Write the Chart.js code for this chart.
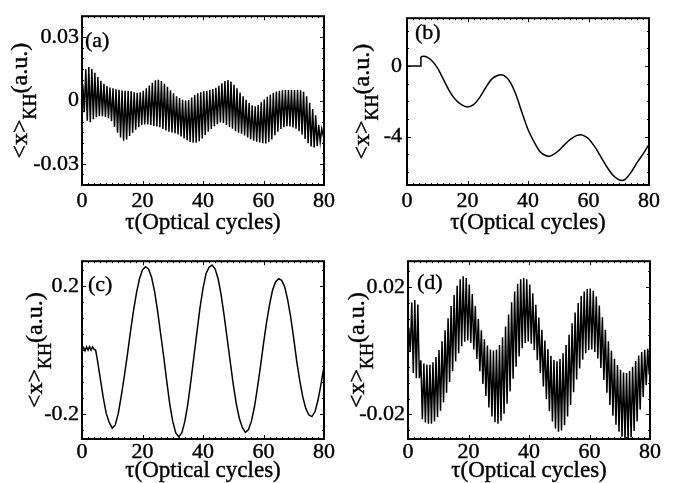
<!DOCTYPE html>
<html><head><meta charset="utf-8">
<script src="https://cdn.jsdelivr.net/npm/chart.js@4.4.1/dist/chart.umd.min.js"></script>
<style>
html,body{margin:0;padding:0;background:#fff;}
#wrap{position:relative;width:677px;height:483px;overflow:hidden;background:#fff;}
canvas{position:absolute;}
</style></head><body><div id="wrap">
<canvas id="ca"></canvas><canvas id="cb"></canvas><canvas id="cc"></canvas><canvas id="cd"></canvas>
</div>
<script>
// ---------- data ----------
const xTickValues = [0, 20, 40, 60, 80];
const xTickLabels = ['0', '20', '40', '60', '80'];

const aYTickValues = [-0.03, 0, 0.03];
const aYTickLabels = ['-0.03', '0', '0.03'];
const bYTickValues = [-4, 0];
const bYTickLabels = ['-4', '0'];
const cYTickValues = [-0.2, 0.2];
const cYTickLabels = ['-0.2', '0.2'];
const dYTickValues = [-0.02, 0.02];
const dYTickLabels = ['-0.02', '0.02'];

// (a) per-cycle maxima / minima of the fast oscillation
const aStart = 0, aEnd = -0.0135;
const aUpper = [0.0078,0.0148,0.0159,0.0150,0.0132,0.0112,0.0094,0.0080,0.0069,0.0062,
 0.0058,0.0054,0.0051,0.0048,0.0047,0.0046,0.0044,0.0040,0.0037,0.0039,
 0.0046,0.0058,0.0072,0.0085,0.0096,0.0099,0.0093,0.0080,0.0065,0.0049,
 0.0035,0.0021,0.0012,0.0004,0.0000,0.0003,0.0015,0.0027,0.0035,0.0040,
 0.0044,0.0047,0.0050,0.0055,0.0061,0.0070,0.0082,0.0093,0.0098,0.0090,
 0.0075,0.0058,0.0038,0.0020,0.0004,-0.0012,-0.0022,-0.0027,-0.0021,-0.0008,
 0.0005,0.0018,0.0028,0.0037,0.0043,0.0047,0.0049,0.0050,0.0050,0.0050,
 0.0050,0.0050,0.0049,0.0042,0.0020,-0.0010,-0.0040,-0.0070,-0.0115,-0.0135];
const aLower = [-0.0055,-0.0095,-0.0102,-0.0088,-0.0079,-0.0074,-0.0074,-0.0077,-0.0083,-0.0098,
 -0.0125,-0.0152,-0.0175,-0.0190,-0.0184,-0.0168,-0.0152,-0.0138,-0.0126,-0.0116,
 -0.0113,-0.0113,-0.0115,-0.0120,-0.0123,-0.0126,-0.0134,-0.0142,-0.0148,-0.0151,
 -0.0155,-0.0161,-0.0170,-0.0180,-0.0188,-0.0196,-0.0200,-0.0200,-0.0193,-0.0180,
 -0.0163,-0.0148,-0.0135,-0.0122,-0.0112,-0.0104,-0.0106,-0.0115,-0.0125,-0.0133,
 -0.0145,-0.0152,-0.0157,-0.0165,-0.0175,-0.0183,-0.0190,-0.0195,-0.0198,-0.0202,
 -0.0203,-0.0196,-0.0184,-0.0164,-0.0148,-0.0135,-0.0126,-0.0122,-0.0123,-0.0127,
 -0.0133,-0.0145,-0.0160,-0.0182,-0.0202,-0.0217,-0.0222,-0.0215,-0.0195,-0.0165];

// (b) slow drift
const bStepTau = [0, 4.6, 4.6];
const bStepVal = [0, 0, 0.53];
const bTau = [4.6,5.5,8,10,12,14,16,18,20,22,24,26,28,30,31,32,34,36,38,40,42,44,46,47,48,50,52,54,56,57.5,59,60,62,64,66,68,70,71,72,74,76,78,80];
const bVal = [0.53,0.56,0.35,-0.09,-0.74,-1.4,-1.9,-2.19,-2.32,-2.19,-1.79,-1.23,-0.74,-0.53,-0.49,-0.53,-0.88,-1.61,-2.63,-3.6,-4.3,-4.86,-5.09,-5.12,-5.05,-4.82,-4.47,-4.16,-3.95,-3.89,-4.0,-4.12,-4.56,-5.12,-5.7,-6.18,-6.44,-6.49,-6.44,-6.05,-5.49,-5.0,-4.44];

// (c)
const cTau = [0,0.5,1,1.5,2,2.5,3,3.5,4,4.5,5,6,7,8,9,10,11,12,13,14,15,16,17,18,19,20,21,22,23,24,25,26,27,28,29,30,
 31,32,33,34,35,36,37,38,39,40,41,42,43,44,45,46,47,48,49,50,51,52,53,54,55,56,57,58,59,60,
 61,62,63,64,65,66,67,68,69,70,71,72,73,74,75,76,77,78,79,80];
const cVal = [0.000,0.008,-0.002,0.010,0.000,0.011,0.000,0.010,0.002,0.000,
 -0.025,-0.086,-0.147,-0.198,-0.226,-0.244,-0.234,-0.198,-0.142,-0.081,-0.015,0.056,0.122,0.178,0.223,0.251,
 0.261,0.254,0.228,0.183,0.122,0.051,-0.020,-0.096,-0.168,-0.223,-0.259,-0.271,-0.259,-0.223,-0.168,-0.096,
 -0.020,0.056,0.132,0.193,0.239,0.259,0.266,0.254,0.223,0.173,0.107,0.036,-0.036,-0.107,-0.168,-0.213,
 -0.242,-0.257,-0.249,-0.223,-0.178,-0.117,-0.051,0.020,0.086,0.142,0.188,0.213,0.223,0.218,0.198,0.157,
 0.102,0.036,-0.036,-0.096,-0.147,-0.183,-0.203,-0.208,-0.193,-0.157,-0.107,-0.051];

// (d) per-cycle maxima / minima
const dStart = 0.0037, dEnd = 0.0;
const dUpper = [0.0073,0.0151,0.0159,0.0145,-0.0030,-0.0040,-0.0044,-0.0044,-0.0036,-0.0020,
 0.0002,0.0030,0.0064,0.0102,0.0140,0.0175,0.0204,0.0224,0.0234,0.0228,
 0.0208,0.0178,0.0140,0.0100,0.0064,0.0036,0.0016,0.0004,0.0001,0.0004,
 0.0018,0.0042,0.0076,0.0114,0.0152,0.0186,0.0210,0.0224,0.0228,0.0224,
 0.0208,0.0180,0.0144,0.0104,0.0066,0.0032,0.0005,-0.0016,-0.0029,-0.0033,
 -0.0026,-0.0008,0.0018,0.0050,0.0086,0.0120,0.0150,0.0172,0.0186,0.0194,
 0.0195,0.0188,0.0170,0.0142,0.0105,0.0066,0.0030,0.0000,-0.0025,-0.0045,
 -0.0060,-0.0068,-0.0070,-0.0064,-0.0050,-0.0032,-0.0015,-0.0004,0.0003,0.0006];
const dLower = [-0.0004,-0.0070,-0.0086,-0.0086,-0.0215,-0.0225,-0.0229,-0.0229,-0.0222,-0.0208,
 -0.0188,-0.0162,-0.0132,-0.0098,-0.0064,-0.0034,-0.0008,0.0014,0.0028,0.0032,
 0.0024,0.0004,-0.0026,-0.0064,-0.0104,-0.0142,-0.0178,-0.0206,-0.0224,-0.0229,
 -0.0220,-0.0198,-0.0166,-0.0128,-0.0088,-0.0050,-0.0018,0.0008,0.0024,0.0029,
 0.0022,0.0002,-0.0030,-0.0070,-0.0112,-0.0152,-0.0190,-0.0222,-0.0244,-0.0254,
 -0.0250,-0.0234,-0.0206,-0.0170,-0.0130,-0.0090,-0.0056,-0.0028,-0.0008,0.0002,
 0.0004,-0.0004,-0.0024,-0.0054,-0.0092,-0.0132,-0.0170,-0.0204,-0.0232,-0.0254,
 -0.0270,-0.0279,-0.0280,-0.0272,-0.0252,-0.0222,-0.0185,-0.0145,-0.0108,-0.0075];

// ---------- helpers ----------
const INK = '#000';
const SERIF = '"Liberation Serif"';

function zip(t, v) { return t.map((x, i) => ({x: x, y: v[i]})); }
function cyclePoints(start, upper, lower, end) {
  const pts = [{x: 0, y: start}];
  for (let k = 0; k < upper.length; k++) {
    pts.push({x: k + 0.25, y: upper[k]});
    pts.push({x: k + 0.75, y: lower[k]});
  }
  pts.push({x: 80, y: end});
  return pts;
}

function heavyText(ctx, t, x, y) {
  ctx.fillText(t, x, y);
  ctx.strokeText(t, x, y);
}

function framePlugin(p) {
  return {
    id: 'frame',
    afterDraw(chart) {
      const ctx = chart.ctx, a = chart.chartArea, xs = chart.scales.x, ys = chart.scales.y;
      ctx.save();
      ctx.strokeStyle = INK;
      ctx.lineWidth = 1;
      ctx.beginPath();
      for (let v = 0; v <= 80; v += 2) {
        const px = Math.round(xs.getPixelForValue(v)) + 0.5;
        const len = (v % 20 === 0) ? 4 : 2;
        ctx.moveTo(px, a.bottom); ctx.lineTo(px, a.bottom - len);
        ctx.moveTo(px, a.top); ctx.lineTo(px, a.top + len);
      }
      const base = Math.ceil(p.yMin / p.yMinor);
      for (let i = base; i * p.yMinor <= p.yMax + 1e-12; i++) {
        const v = i * p.yMinor;
        const py = Math.round(ys.getPixelForValue(v)) + 0.5;
        const major = p.yTicks.some(t => Math.abs(t - v) < p.yMinor / 10);
        const len = major ? 4 : 2;
        ctx.moveTo(a.left, py); ctx.lineTo(a.left + len, py);
        ctx.moveTo(a.right, py); ctx.lineTo(a.right - len, py);
      }
      ctx.stroke();
      ctx.lineWidth = 2;
      ctx.strokeRect(a.left, a.top, a.right - a.left, a.bottom - a.top);

      ctx.fillStyle = INK;
      ctx.lineWidth = 0.4;
      ctx.font = '22px ' + SERIF;
      ctx.textBaseline = 'alphabetic';
      ctx.textAlign = 'left';
      heavyText(ctx, p.tag, a.left + p.tagDx, a.top + p.tagDy);

      ctx.font = '23px ' + SERIF;
      ctx.textAlign = 'center';
      heavyText(ctx, '\u03C4(Optical cycles)', (a.left + a.right) / 2, a.bottom + p.xTitleDy);

      const pieces = [
        {t: '<x>', f: '24px ' + SERIF, dy: 0},
        {t: 'KH', f: '18px ' + SERIF, dy: 9},
        {t: '(a.u.)', f: '24px ' + SERIF, dy: 0}
      ];
      let total = 0;
      pieces.forEach(pc => { ctx.font = pc.f; pc.w = ctx.measureText(pc.t).width; total += pc.w; });
      ctx.translate(a.left + p.yTitleDx, (a.top + a.bottom) / 2);
      ctx.rotate(-Math.PI / 2);
      ctx.textAlign = 'left';
      let cx = -total / 2;
      pieces.forEach(pc => { ctx.font = pc.f; heavyText(ctx, pc.t, cx, pc.dy); cx += pc.w; });
      ctx.restore();
    }
  };
}

function makePanel(id, p) {
  const cv = document.getElementById(id);
  cv.width = p.w; cv.height = p.h;
  cv.style.left = p.left + 'px'; cv.style.top = p.top + 'px';
  cv.style.width = p.w + 'px'; cv.style.height = p.h + 'px';
  const tickFont = {family: 'Liberation Serif', size: 22};
  new Chart(cv, {
    type: 'line',
    data: {datasets: p.datasets},
    options: {
      responsive: false, animation: false, devicePixelRatio: 1,
      layout: {padding: {left: 0, top: p.area.t, right: p.w - p.area.r, bottom: 0}},
      plugins: {legend: {display: false}, tooltip: {enabled: false}, title: {display: false}},
      elements: {point: {radius: 0}},
      scales: {
        x: {
          type: 'linear', min: 0, max: 80,
          grid: {display: false, drawTicks: false}, border: {display: false},
          afterBuildTicks: s => { s.ticks = xTickValues.map(v => ({value: v})); },
          afterFit: s => { s.height = p.h - p.area.b; },
          ticks: {font: tickFont, color: INK, padding: p.xPad, maxRotation: 0, autoSkip: false,
                  textStrokeColor: INK, textStrokeWidth: 0.4,
                  callback: (v, i) => xTickLabels[i]}
        },
        y: {
          type: 'linear', min: p.yMin, max: p.yMax,
          grid: {display: false, drawTicks: false}, border: {display: false},
          afterBuildTicks: s => { s.ticks = p.yTicks.map(v => ({value: v})); },
          afterFit: s => { s.width = p.area.l; },
          ticks: {font: tickFont, color: INK, padding: p.yPad, autoSkip: false,
                  textStrokeColor: INK, textStrokeWidth: 0.4,
                  callback: (v, i) => p.yLabels[i]}
        }
      }
    },
    plugins: [framePlugin(p)]
  });
}

const lineStyle = (w) => ({borderColor: INK, borderWidth: w, fill: false, pointRadius: 0, tension: 0});

makePanel('ca', {
  left: 0, top: 0, w: 340, h: 245, area: {l: 82, t: 5, r: 324, b: 185},
  yMin: -0.04, yMax: 0.04, yTicks: aYTickValues, yLabels: aYTickLabels, yMinor: 0.005,
  xPad: 3, yPad: 3, tag: '(a)', tagDx: 3, tagDy: 31, xTitleDy: 44, yTitleDx: -55,
  datasets: [Object.assign({data: cyclePoints(aStart, aUpper, aLower, aEnd)}, lineStyle(1.5))]
});
makePanel('cb', {
  left: 338, top: 0, w: 339, h: 245, area: {l: 69, t: 5, r: 311, b: 185},
  yMin: -6.75, yMax: 2.72, yTicks: bYTickValues, yLabels: bYTickLabels, yMinor: 1,
  xPad: 3, yPad: 5, tag: '(b)', tagDx: 8, tagDy: 21, xTitleDy: 44, yTitleDx: -38,
  datasets: [
    Object.assign({data: zip(bStepTau, bStepVal)}, lineStyle(1.5)),
    Object.assign({data: zip(bTau, bVal), cubicInterpolationMode: 'monotone'}, lineStyle(1.5))
  ]
});
makePanel('cc', {
  left: 0, top: 245, w: 340, h: 238, area: {l: 82, t: 12, r: 324, b: 194},
  yMin: -0.278, yMax: 0.278, yTicks: cYTickValues, yLabels: cYTickLabels, yMinor: 0.05,
  xPad: 0, yPad: 3, tag: '(c)', tagDx: 6, tagDy: 30, xTitleDy: 38, yTitleDx: -40,
  datasets: [Object.assign({data: zip(cTau, cVal)}, lineStyle(1.5))]
});
makePanel('cd', {
  left: 338, top: 245, w: 339, h: 238, area: {l: 70, t: 12, r: 312, b: 194},
  yMin: -0.0277, yMax: 0.0281, yTicks: dYTickValues, yLabels: dYTickLabels, yMinor: 0.005,
  xPad: 0, yPad: 3, tag: '(d)', tagDx: 9, tagDy: 28, xTitleDy: 38, yTitleDx: -44,
  datasets: [Object.assign({data: cyclePoints(dStart, dUpper, dLower, dEnd)}, lineStyle(1.5))]
});
</script>
</body></html>
